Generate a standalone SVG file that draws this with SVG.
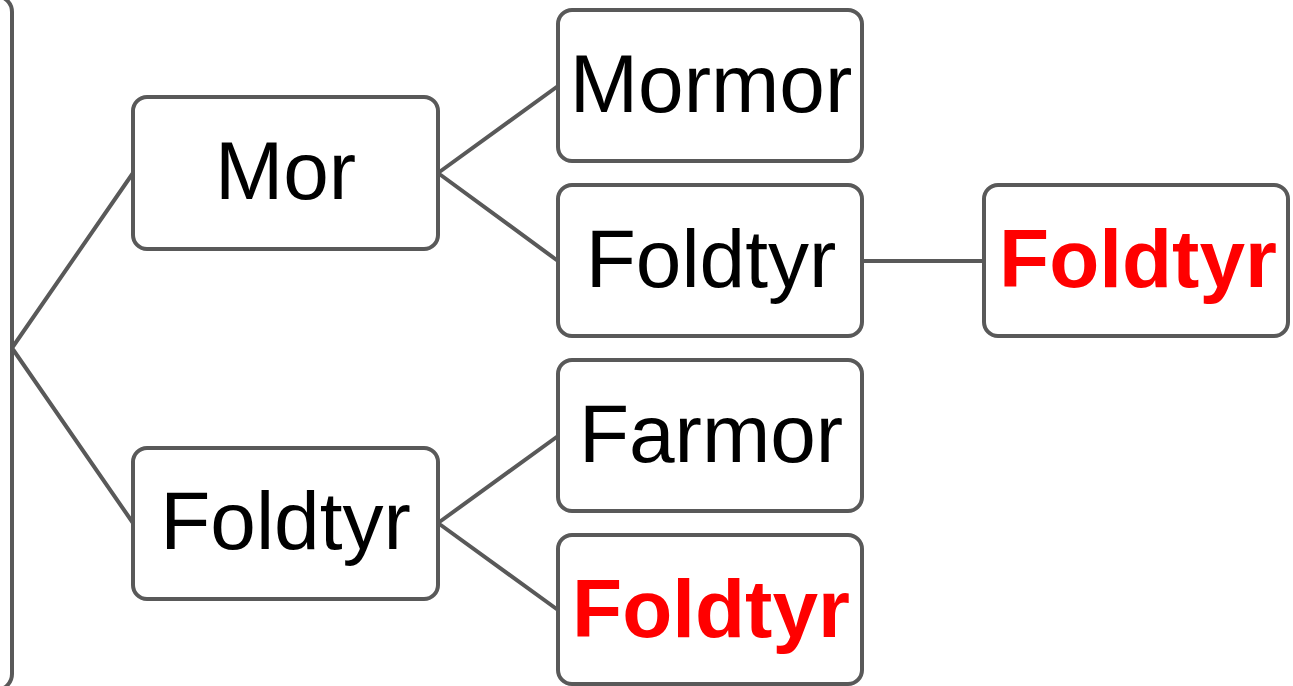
<svg xmlns="http://www.w3.org/2000/svg" width="1293" height="686" viewBox="0 0 1293 686">
<style>
.box{fill:#fff;stroke:#595959;stroke-width:4}
.lnk{stroke:#595959;stroke-width:4;fill:none}
.t{font-family:"Liberation Sans",Arial,sans-serif;font-size:82px;text-anchor:middle;fill:#000}
.r{fill:#ff0000;font-weight:bold}
</style>
<rect width="1293" height="686" fill="#fff"/>
<g id="root"><rect class="box" x="-100" y="-4" width="112" height="694" rx="16"/></g>
<g id="connectors">
<path class="lnk" d="M12,348 L133,173 M12,348 L133,523 M438,173 L558,86 M438,173 L558,261 M862,261 L984,261 M438,523 L558,436 M438,523 L558,610"/>
</g>
<g id="mor"><rect class="box" x="133" y="97" width="305" height="152" rx="14"/><text class="t" x="285.5" y="199">Mor</text></g>
<g id="foldtyr-far"><rect class="box" x="133" y="448" width="305" height="151" rx="14"/><text class="t" x="285.5" y="549">Foldtyr</text></g>
<g id="mormor"><rect class="box" x="558" y="10" width="304" height="151" rx="14"/><text class="t" x="711" y="112">Mormor</text></g>
<g id="foldtyr-mm"><rect class="box" x="558" y="185" width="304" height="151" rx="14"/><text class="t" x="711" y="287">Foldtyr</text></g>
<g id="foldtyr-mmf"><rect class="box" x="984" y="185" width="304" height="151" rx="14"/><text class="t r" x="1138" y="287">Foldtyr</text></g>
<g id="farmor"><rect class="box" x="558" y="360" width="304" height="151" rx="14"/><text class="t" x="711" y="462">Farmor</text></g>
<g id="foldtyr-ff"><rect class="box" x="558" y="535" width="304" height="149" rx="14"/><text class="t r" x="711" y="637">Foldtyr</text></g>
</svg>
